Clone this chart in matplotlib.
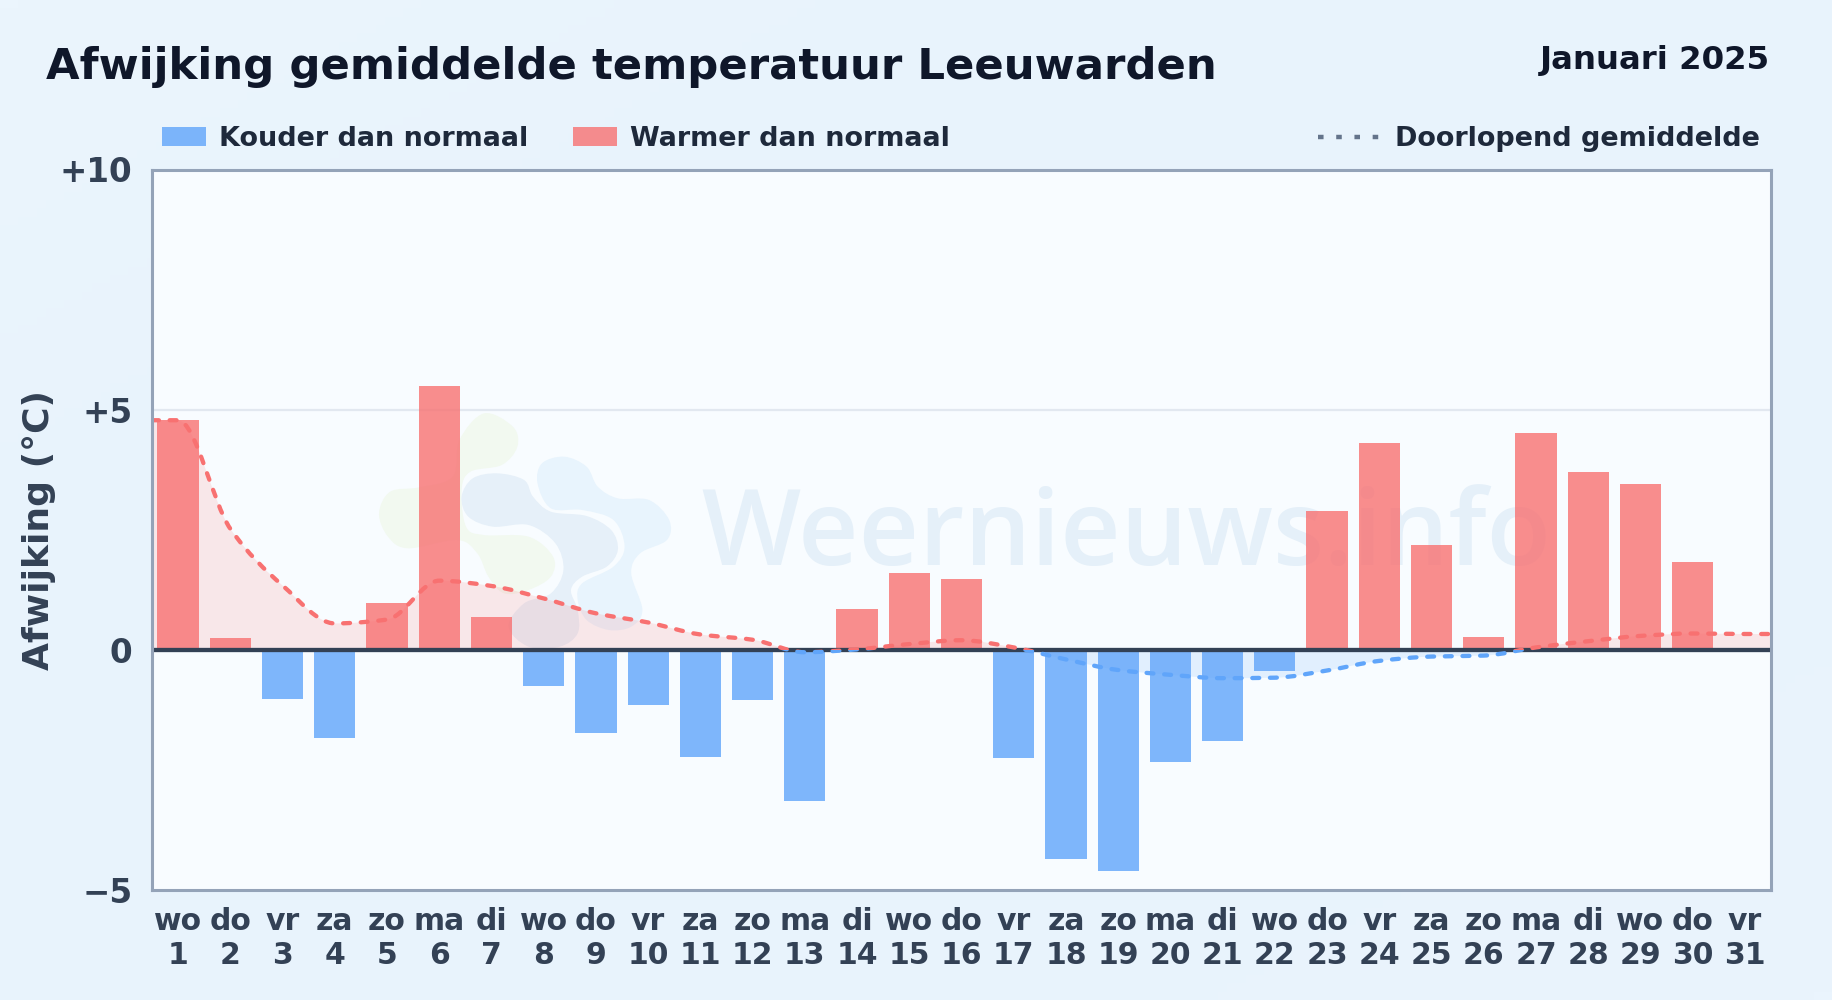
import numpy as np
import matplotlib
matplotlib.use("Agg")
import matplotlib.pyplot as plt
from matplotlib.path import Path
from matplotlib.patches import PathPatch, Rectangle
from matplotlib.lines import Line2D
from matplotlib.transforms import Affine2D
from matplotlib.colors import LinearSegmentedColormap

plt.rcParams['font.family'] = ['DejaVu Sans']

days = list(range(1, 32))
weekdays = ["wo","do","vr","za","zo","ma","di","wo","do","vr","za","zo","ma","di","wo","do",
            "vr","za","zo","ma","di","wo","do","vr","za","zo","ma","di","wo","do","vr"]
deviation = [4.78,0.25,-1.03,-1.84,0.98,5.50,0.69,-0.76,-1.74,-1.15,-2.24,-1.05,-3.15,0.85,1.60,1.48,
             -2.26,-4.36,-4.60,-2.34,-1.90,-0.45,2.88,4.30,2.18,0.27,4.51,3.70,3.46,1.82,-0.05]
running_mean = [4.78,2.52,1.34,0.55,0.63,1.44,1.33,1.07,0.76,0.57,0.32,0.21,-0.05,0.01,0.12,0.20,
                0.05,-0.20,-0.42,-0.52,-0.59,-0.58,-0.43,-0.23,-0.14,-0.12,0.05,0.18,0.29,0.34,0.33]
y_ticks = [-5, 0, 5, 10]
y_labels = ["\u22125", "0", "+5", "+10"]

W, H = 1832, 1000
fig = plt.figure(figsize=(W/100, H/100), dpi=100)
px = Affine2D().scale(1/W, -1/H).translate(0, 1) + fig.transFigure

# page background
bg = fig.add_axes([0, 0, 1, 1], zorder=-10)
bg.axis("off")
gx, gy = np.meshgrid(np.linspace(0, 1, 200), np.linspace(0, 1, 120))
cmap = LinearSegmentedColormap.from_list("bg", ["#ebf5fd", "#e8f3fc", "#e8f3fc", "#eaf4fd"])
bg.imshow((gx + gy) / 2, cmap=cmap, aspect="auto", vmin=0, vmax=1)

L, R, T, B = 152, 1771, 169.5, 890
ax = fig.add_axes([L/W, 1-B/H, (R-L)/W, (B-T)/H])
ax.set_facecolor("#f8fcff")
ax.set_xlim(0.5, 31.5)
ax.set_ylim(-5, 10)


def blob(pts, color):
    """Closed smooth outline through zoomed-logo points."""
    p = np.array(pts, float)
    p = np.column_stack([350 + p[:, 0] / 2.24, 380 + p[:, 1] / 3])
    n = len(p)
    verts, codes = [p[0]], [Path.MOVETO]
    for i in range(n):
        p0, p1, p2, p3 = p[i-1], p[i], p[(i+1) % n], p[(i+2) % n]
        verts += [p1 + (p2-p0)/6, p2 - (p3-p1)/6, p2]
        codes += [Path.CURVE4] * 3
    ax.add_patch(PathPatch(Path(verts, codes), fc=color, ec="none", transform=px, zorder=0.5))


blob([(300,100),(365,140),(375,200),(340,255),(270,275),(250,330),(260,440),(300,465),(400,470),
      (455,530),(450,590),(400,630),(345,640),(310,590),(285,520),(240,480),(130,505),(85,470),
      (65,400),(90,335),(155,322),(230,290),(245,180)], "#f2f9f0")
blob([(480,230),(530,260),(555,320),(600,355),(670,360),(715,420),(710,480),(650,520),(630,580),
      (655,690),(630,740),(580,750),(530,720),(510,660),(520,610),(590,560),(615,500),(590,420),
      (520,390),(450,385),(420,310),(430,250)], "#e8f4fd")
blob([(330,280),(390,300),(410,350),(450,395),(530,408),(585,450),(600,510),(575,560),(520,590),
      (495,630),(510,690),(510,760),(470,800),(400,800),(355,740),(390,670),(450,640),(478,570),
      (460,490),(400,435),(320,440),(265,410),(250,350),(275,295)], "#e6f0f9")
ax.text(701, 538, "Weernieuws.info", transform=px, family="Open Sans", fontweight="semibold", fontsize=75.5,
        color="#e5f0f9", ha="left", va="center", zorder=0.6)

# grid
ax.axhline(5, color="#e2e8f0", lw=1.6, zorder=1)

# running mean curve (monotone Bezier segments through the values)
xs = np.array([0.5] + days + [31.5], float)
ys = np.array([running_mean[0]] + running_mean + [running_mean[-1]], float)
sl = np.diff(ys) / np.diff(xs)
tan = np.zeros_like(ys)
for i in range(1, len(ys) - 1):
    if sl[i-1] * sl[i] > 0:
        tan[i] = 2 * sl[i-1] * sl[i] / (sl[i-1] + sl[i])
verts, codes = [(xs[0], ys[0])], [Path.MOVETO]
for i in range(len(xs) - 1):
    h = (xs[i+1] - xs[i]) / 3
    verts += [(xs[i] + h, ys[i] + tan[i]*h), (xs[i+1] - h, ys[i+1] - tan[i+1]*h), (xs[i+1], ys[i+1])]
    codes += [Path.CURVE4] * 3
fill_path = Path(verts + [(xs[-1], 0), (xs[0], 0), (xs[0], ys[0])],
                 codes + [Path.LINETO, Path.LINETO, Path.LINETO])
curve = Path(verts, codes)
for color, y0, h in (("#f87171", 0, 10), ("#60a5fa", -5, 5)):
    clip = Rectangle((0.5, y0), 31, h, transform=ax.transData)
    f = PathPatch(fill_path, fc=color, alpha=0.15, ec="none", zorder=1.5)
    ax.add_patch(f)
    f.set_clip_path(clip)
    c = PathPatch(curve, fc="none", ec=color, lw=3.1, ls=(0, (1.6, 2.5)), capstyle="round", zorder=4)
    ax.add_patch(c)
    c.set_clip_path(clip)

# bars
bar_colors = ["#f87171" if v >= 0 else "#60a5fa" for v in deviation]
ax.bar(days, deviation, width=0.79, color=bar_colors, alpha=0.8, zorder=2)

# zero line
ax.axhline(0, color="#334155", lw=3.1, zorder=3)

# axes styling
for s in ax.spines.values():
    s.set_color("#94a3b8")
    s.set_linewidth(2.2)
    s.set_zorder(5)
ax.set_xticks(days)
ax.set_xticklabels([f"{w}\n{d}" for w, d in zip(weekdays, days)], fontsize=21.5, fontweight="bold",
                   color="#334155", linespacing=1.25)
ax.set_yticks(y_ticks)
ax.set_yticklabels(y_labels, fontsize=23.5, fontweight="bold", color="#334155")
ax.tick_params(axis="x", length=0, pad=12)
ax.tick_params(axis="y", length=0, pad=14)
fig.text(39/W, 1-530/H, "Afwijking (°C)", rotation=90, fontsize=26, fontweight="bold", color="#334155",
         ha="center", va="center")

# header
fig.text(46/W, 1-67.5/H, "Afwijking gemiddelde temperatuur Leeuwarden", fontsize=31.2, fontweight="bold",
         color="#0f172a", ha="left", va="center")
fig.text(1770/W, 1-61/H, "Januari 2025", fontsize=23.3, fontweight="bold", color="#0f172a",
         ha="right", va="center")

# legend
for x0, color, label, tx in ((162, "#60a5fa", "Kouder dan normaal", 219),
                             (573, "#f87171", "Warmer dan normaal", 630)):
    fig.add_artist(Rectangle((x0, 127), 44, 19, transform=px, fc=color, alpha=0.8, ec="none"))
    fig.text(tx/W, 1-139/H, label, fontsize=19.45, fontweight="bold", color="#1e293b", ha="left", va="center")
fig.add_artist(Line2D([1318, 1379], [137, 137], transform=px, color="#64748b", lw=3.2,
                      ls=(0, (1.25, 2.85))))
fig.text(1395/W, 1-139/H, "Doorlopend gemiddelde", fontsize=19.45, fontweight="bold", color="#1e293b",
         ha="left", va="center")

fig.savefig("out.png", dpi=100, facecolor="#e8f3fc")
